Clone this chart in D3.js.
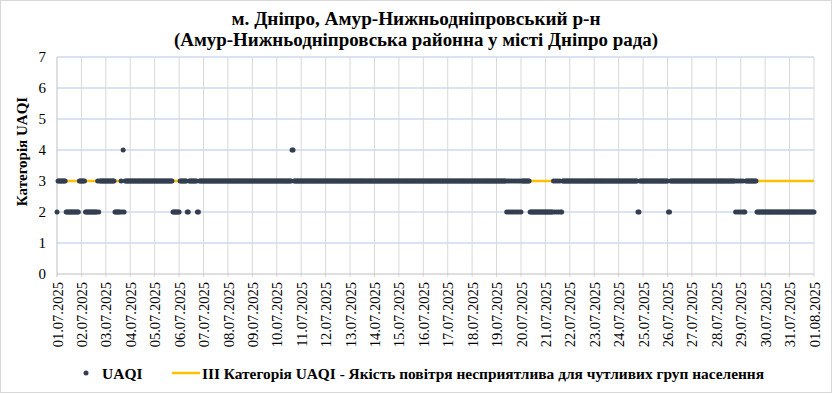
<!DOCTYPE html>
<html>
<head>
<meta charset="utf-8">
<script src="https://cdn.jsdelivr.net/npm/d3@7"></script>
<style>
  body { margin: 0; background: #fff; }
</style>
</head>
<body>
<div id="chart"></div>
<script>
const W = 832, H = 394;
const margin = { top: 57, right: 18, bottom: 120, left: 57 };

const titleLines = [
	"м. Дніпро, Амур-Нижньодніпровський р-н",
	"(Амур-Нижньодніпровська районна у місті Дніпро рада)"
];
const yTitle = "Категорія UAQI";
const legendDots = "UAQI";
const legendLine = "ІІІ Категорія UAQI - Якість повітря несприятлива для чутливих груп населення";

const startDate = Date.UTC(2025, 6, 1);
const endDate = Date.UTC(2025, 7, 1);
const yTicks = [0, 1, 2, 3, 4, 5, 6, 7];
const categoryLevel = 3;

// hourly UAQI category, one string per day (24 chars = hours 00..23)
const hourlyByDay = [
	"233333333222222222222233", // 01.07
	"333322222222222232333333", // 02.07
	"333333333222222324233333", // 03.07
	"333333333333333333333333", // 04.07
	"333333333333333333222222", // 05.07
	"233333332233333333223333", // 06.07
	"333333333333333333333333", // 07.07
	"333333333333333333333333", // 08.07
	"333333333333333333333333", // 09.07
	"333333333333333443333333", // 10.07
	"333333333333333333333333", // 11.07
	"333333333333333333333333", // 12.07
	"333333333333333333333333", // 13.07
	"333333333333333333333333", // 14.07
	"333333333333333333333333", // 15.07
	"333333333333333333333333", // 16.07
	"333333333333333333333333", // 17.07
	"333333333333333333333333", // 18.07
	"333333333323232323232323", // 19.07
	"233333333222222222222222", // 20.07
	"222222223232323223333333", // 21.07
	"333333333333333333333333", // 22.07
	"333333333333333333333333", // 23.07
	"333333333333333333322333", // 24.07
	"333333333333333333333333", // 25.07
	"322333333333333333333333", // 26.07
	"333333333333333333333333", // 27.07
	"333333333333333333323232", // 28.07
	"323223333333333322222222", // 29.07
	"222222222222222222222222", // 30.07
	"222222222222222222222222", // 31.07
	"2"                         // 01.08 00:00
];

const points = [];
hourlyByDay.forEach((s, d) => {
	s.split("").forEach((c, h) => {
		points.push({ t: new Date(startDate + (d * 24 + h) * 3600e3), v: +c });
	});
});

const svg = d3.select("#chart").append("svg")
	.attr("width", W)
	.attr("height", H);

svg.append("rect")
	.attr("x", 0.5).attr("y", 0.5)
	.attr("width", W - 1).attr("height", H - 2)
	.attr("fill", "#fff").attr("stroke", "#d9d9d9");

const x = d3.scaleUtc()
	.domain([new Date(startDate), new Date(endDate)])
	.range([margin.left, W - margin.right]);

const y = d3.scaleLinear()
	.domain([0, 7])
	.range([H - margin.bottom, margin.top]);

const days = d3.utcDay.range(new Date(startDate), new Date(endDate + 1));

// grid
svg.append("g").selectAll("line")
	.data(yTicks.filter(d => d > 0))
	.join("line")
	.attr("x1", margin.left).attr("x2", W - margin.right)
	.attr("y1", d => y(d)).attr("y2", d => y(d))
	.attr("stroke", "#b4c7e7").attr("stroke-width", 1);

svg.append("g").selectAll("line")
	.data(days.slice(1))
	.join("line")
	.attr("x1", d => x(d)).attr("x2", d => x(d))
	.attr("y1", y(7)).attr("y2", y(0) + 3)
	.attr("stroke", "#d9d9d9").attr("stroke-width", 1);

// axes
svg.append("line")
	.attr("x1", margin.left).attr("x2", W - margin.right)
	.attr("y1", y(0)).attr("y2", y(0))
	.attr("stroke", "#bfbfbf");
svg.append("line")
	.attr("x1", margin.left).attr("x2", margin.left)
	.attr("y1", y(7)).attr("y2", y(0) + 3)
	.attr("stroke", "#bfbfbf");

svg.append("g")
	.attr("transform", `translate(${margin.left - 11},0)`)
	.call(d3.axisLeft(y).tickValues(yTicks).tickFormat(d3.format("d")).tickSize(0).tickPadding(0))
	.call(g => g.select(".domain").remove())
	.selectAll("text")
	.attr("font-size", "15px");

svg.append("g")
	.attr("transform", `translate(0,${y(0) + 8})`)
	.call(d3.axisBottom(x).tickValues(days).tickSize(0).tickFormat(d3.utcFormat("%d.%m.%Y")))
	.call(g => g.select(".domain").remove())
	.selectAll("text")
	.attr("font-size", "14.5px")
	.attr("text-anchor", "end")
	.attr("dy", "0.35em")
	.attr("transform", "rotate(-90)")
	.attr("x", 0).attr("y", 0);

// titles
svg.append("g").selectAll("text")
	.data(titleLines)
	.join("text")
	.attr("x", W / 2)
	.attr("y", (d, i) => 25 + i * 21)
	.attr("text-anchor", "middle")
	.attr("font-size", "18px")
	.attr("font-weight", "bold")
	.attr("textLength", (d, i) => i === 0 ? 369 : 484)
	.attr("lengthAdjust", "spacingAndGlyphs")
	.text(d => d);

svg.append("text")
	.attr("transform", `translate(27,${(y(0) + y(7)) / 2 - 14}) rotate(-90)`)
	.attr("text-anchor", "middle")
	.attr("font-size", "15px")
	.attr("font-weight", "bold")
	.text(yTitle);

// category line
svg.append("line")
	.attr("x1", x(new Date(startDate))).attr("x2", x(new Date(endDate)))
	.attr("y1", y(categoryLevel)).attr("y2", y(categoryLevel))
	.attr("stroke", "#ffc000").attr("stroke-width", 2.5);

// UAQI dots
svg.append("g").selectAll("circle")
	.data(points)
	.join("circle")
	.attr("cx", d => x(d.t))
	.attr("cy", d => y(d.v))
	.attr("r", 2.5)
	.attr("fill", "#333f50");

// legend
const ly = 374;
svg.append("circle").attr("cx", 86).attr("cy", ly - 1).attr("r", 2.5).attr("fill", "#333f50");
svg.append("text").attr("x", 102).attr("y", ly + 5)
	.attr("font-size", "15.5px").attr("font-weight", "bold").text(legendDots);
svg.append("line").attr("x1", 172).attr("x2", 200).attr("y1", ly - 1).attr("y2", ly - 1)
	.attr("stroke", "#ffc000").attr("stroke-width", 2.5);
svg.append("text").attr("x", 202).attr("y", ly + 5)
	.attr("font-size", "15.5px").attr("font-weight", "bold")
	.attr("textLength", 562).attr("lengthAdjust", "spacingAndGlyphs")
	.text(legendLine);

// all text in the serif face, inline so the axis defaults can't win
svg.selectAll("text")
	.style("font-family", '"Liberation Serif"')
	.style("fill", "#000");
</script>
</body>
</html>
